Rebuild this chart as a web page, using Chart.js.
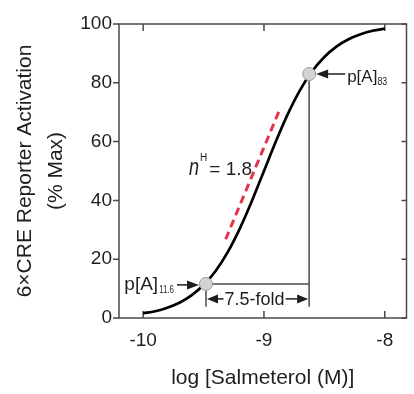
<!DOCTYPE html>
<html>
<head>
<meta charset="utf-8">
<script src="https://cdn.jsdelivr.net/npm/chart.js"></script>
<style>
  html, body { margin: 0; padding: 0; background: #fff; }
  #wrap { width: 414px; height: 394px; }
</style>
</head>
<body>
<div id="wrap"><canvas id="chart" width="414" height="394"></canvas></div>
<script>
// concentration-response curve
const logConc = [-10, -9.9, -9.8, -9.7, -9.6, -9.5, -9.4, -9.3, -9.2, -9.1, -9.0,
                 -8.9, -8.8, -8.7, -8.6, -8.5, -8.4, -8.3, -8.2, -8.1, -8.0];
const activation = [1.6, 2.3, 3.5, 5.2, 7.7, 11.2, 16.0, 22.4, 30.4, 39.8, 50.0,
                    60.2, 69.6, 77.6, 84.0, 88.8, 92.3, 94.8, 96.5, 97.7, 98.4];

// marked points p[A]11.6 and p[A]83
const markerX = [-9.48, -8.626];
const markerY = [11.6, 83];

// red dashed slope line (nH)
const slopeX = [-9.317, -8.875];
const slopeY = [26.8, 70.4];

const xTicks = [-10, -9, -8];
const yTicks = [0, 20, 40, 60, 80, 100];

const guideFoot = 3.8;   // where the drop lines end
const bracketY = 6.5;    // 7.5-fold bracket level

const FONT = "'Liberation Sans', Arial, sans-serif";
const INK = '#1e1e1e';
const AXIS = '#4a4a4a';

function pts(xs, ys) {
  return xs.map((v, i) => ({ x: v, y: ys[i] }));
}

function arrow(ctx, x1, y1, x2, y2, len, half) {
  const ang = Math.atan2(y2 - y1, x2 - x1);
  const bx = x2 - Math.cos(ang) * len;
  const by = y2 - Math.sin(ang) * len;
  ctx.beginPath();
  ctx.moveTo(x1, y1);
  ctx.lineTo(bx, by);
  ctx.stroke();
  ctx.beginPath();
  ctx.moveTo(x2, y2);
  ctx.lineTo(bx - Math.sin(ang) * half, by + Math.cos(ang) * half);
  ctx.lineTo(bx + Math.sin(ang) * half, by - Math.cos(ang) * half);
  ctx.closePath();
  ctx.fill();
}

// draw a run of text pieces (sub/superscripts), optional horizontal squeeze
function runs(ctx, parts, x, base, align) {
  let w = 0;
  parts.forEach(p => {
    ctx.font = (p.italic ? 'italic ' : '') + p.size + 'px ' + FONT;
    p.w = ctx.measureText(p.t).width * (p.sx || 1) + (p.gap || 0);
    w += p.w;
  });
  let cx = align === 'right' ? x - w : x;
  parts.forEach(p => {
    ctx.font = (p.italic ? 'italic ' : '') + p.size + 'px ' + FONT;
    ctx.save();
    ctx.translate(cx + (p.gap || 0), base + (p.dy || 0));
    ctx.scale(p.sx || 1, 1);
    ctx.fillText(p.t, 0, 0);
    ctx.restore();
    cx += p.w;
  });
}

const frame = {
  id: 'frame',
  beforeDatasetsDraw(chart) {
    const { ctx, chartArea: a, scales: { x, y } } = chart;
    ctx.save();
    ctx.strokeStyle = AXIS;
    ctx.lineWidth = 1.5;
    ctx.strokeRect(a.left, a.top, a.right - a.left, a.bottom - a.top);
    ctx.beginPath();
    xTicks.forEach(v => {
      const px = x.getPixelForValue(v);
      ctx.moveTo(px, a.bottom); ctx.lineTo(px, a.bottom - 7);
      ctx.moveTo(px, a.top); ctx.lineTo(px, a.top + 7);
    });
    yTicks.forEach(v => {
      const py = y.getPixelForValue(v);
      ctx.moveTo(a.left, py); ctx.lineTo(a.left - 6, py);
      ctx.moveTo(a.right, py); ctx.lineTo(a.right - 5, py);
    });
    ctx.stroke();
    ctx.restore();
  },
  afterDatasetsDraw(chart) {
    const { ctx, scales: { x, y } } = chart;
    ctx.save();
    ctx.fillStyle = INK;
    ctx.strokeStyle = INK;
    ctx.lineWidth = 1.5;
    ctx.textBaseline = 'alphabetic';

    const lo = { x: x.getPixelForValue(markerX[0]), y: y.getPixelForValue(markerY[0]) };
    const hi = { x: x.getPixelForValue(markerX[1]), y: y.getPixelForValue(markerY[1]) };

    // p[A]83 label and arrow
    arrow(ctx, hi.x + 36, hi.y, hi.x + 7, hi.y, 12, 4.5);
    runs(ctx, [{ t: 'p[A]', size: 17 }, { t: '83', size: 11, dy: 3, sx: 0.8 }], hi.x + 38, hi.y + 8, 'left');

    // p[A]11.6 label and arrow
    arrow(ctx, lo.x - 29, lo.y + 1, lo.x - 7, lo.y + 1, 12, 4.5);
    runs(ctx, [{ t: 'p[A]', size: 19 }, { t: '11.6', size: 11, dy: 3, sx: 0.72, gap: 1 }], lo.x - 32, lo.y + 6, 'right');

    // 7.5-fold bracket
    const by = y.getPixelForValue(bracketY);
    ctx.font = '18px ' + FONT;
    const label = '7.5-fold';
    const tw = ctx.measureText(label).width;
    const mid = (lo.x + hi.x) / 2 - 3;
    ctx.textAlign = 'center';
    ctx.textBaseline = 'middle';
    ctx.fillText(label, mid, by + 1);
    ctx.textAlign = 'left';
    ctx.textBaseline = 'alphabetic';
    arrow(ctx, mid - tw / 2 - 1, by, lo.x + 1, by, 11, 4.5);
    arrow(ctx, mid + tw / 2 + 1, by, hi.x - 1, by, 11, 4.5);

    // nH = 1.8
    runs(ctx, [
      { t: 'n', size: 24, italic: true, sx: 0.75 },
      { t: 'H', size: 10, dy: -14, gap: 1 },
      { t: '= 1.8', size: 19, gap: 2 }
    ], x.getPixelForValue(-9.62), y.getPixelForValue(48.8), 'left');

    ctx.restore();
  }
};

const ctx = document.getElementById('chart').getContext('2d');
new Chart(ctx, {
  type: 'scatter',
  data: {
    datasets: [
      {
        label: 'markers',
        data: pts(markerX, markerY),
        pointRadius: 6.5,
        pointBackgroundColor: '#d3d3d3',
        pointBorderColor: '#9c9c9c',
        pointBorderWidth: 1,
        showLine: false
      },
      {
        label: 'curve',
        data: pts(logConc, activation),
        showLine: true,
        borderColor: '#000',
        borderWidth: 2.7,
        pointRadius: 0,
        cubicInterpolationMode: 'monotone'
      },
      {
        label: 'slope',
        data: pts(slopeX, slopeY),
        showLine: true,
        borderColor: '#e4344c',
        borderWidth: 3,
        borderDash: [8, 5],
        pointRadius: 0
      },
      {
        label: 'guideH',
        data: pts(markerX, [markerY[0], markerY[0]]),
        showLine: true,
        borderColor: AXIS,
        borderWidth: 1.5,
        pointRadius: 0
      },
      {
        label: 'dropHigh',
        data: pts([markerX[1], markerX[1]], [markerY[1], guideFoot]),
        showLine: true,
        borderColor: AXIS,
        borderWidth: 1.5,
        pointRadius: 0
      },
      {
        label: 'dropLow',
        data: pts([markerX[0], markerX[0]], [markerY[0], guideFoot]),
        showLine: true,
        borderColor: AXIS,
        borderWidth: 1.5,
        pointRadius: 0
      }
    ]
  },
  options: {
    responsive: false,
    animation: false,
    devicePixelRatio: 1,
    layout: { padding: { top: 24, right: 2, left: 0, bottom: 0 } },
    plugins: { legend: { display: false }, tooltip: { enabled: false } },
    scales: {
      x: {
        type: 'linear',
        min: -10.2,
        max: -7.82,
        grid: { display: false, drawTicks: false },
        border: { display: false },
        afterBuildTicks: s => { s.ticks = xTicks.map(v => ({ value: v })); },
        afterFit: s => { s.height = 76; },
        ticks: {
          font: { family: FONT, size: 19 },
          color: INK,
          padding: 11,
          maxRotation: 0,
          callback: v => String(v)
        },
        title: {
          display: true,
          text: 'log [Salmeterol (M)]',
          font: { family: FONT, size: 21 },
          color: INK,
          padding: { top: 0, bottom: 3 }
        }
      },
      y: {
        min: 0,
        max: 100,
        grid: { display: false, drawTicks: false },
        border: { display: false },
        afterBuildTicks: s => { s.ticks = yTicks.map(v => ({ value: v })); },
        afterFit: s => { s.width = 119; },
        ticks: {
          font: { family: FONT, size: 19 },
          color: INK,
          padding: 7
        },
        title: {
          display: true,
          text: ['6×CRE Reporter Activation', '(% Max)'],
          font: { family: FONT, size: 21, lineHeight: 1.5 },
          color: INK,
          padding: { top: 9, bottom: 0 }
        }
      }
    }
  },
  plugins: [frame]
});
</script>
</body>
</html>
